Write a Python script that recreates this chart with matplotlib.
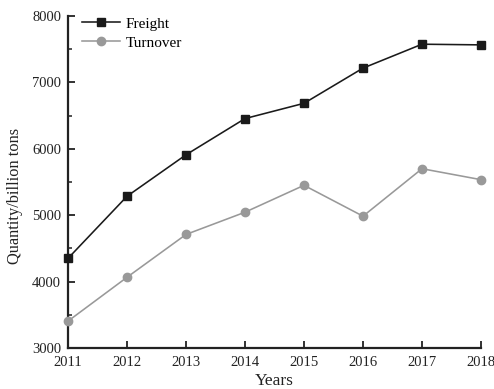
import matplotlib
matplotlib.use("Agg")
import matplotlib.pyplot as plt
from matplotlib.ticker import MultipleLocator

years = [2011, 2012, 2013, 2014, 2015, 2016, 2017, 2018]
freight = [4350, 5285, 5910, 6455, 6685, 7215, 7575, 7565]
turnover = [3405, 4065, 4710, 5045, 5450, 4985, 5700, 5535]

plt.rcParams['font.family'] = ['Liberation Serif', 'DejaVu Serif']

fig = plt.figure(figsize=(4.94, 3.89), dpi=100)
ax = fig.add_axes([0.1377, 0.1054, 0.836, 0.8535])

ax.plot(years, freight, color='#1a1a1a', lw=1.15, marker='s', ms=5.4,
        label='Freight', clip_on=False, zorder=3)
ax.plot(years, turnover, color='#999999', lw=1.15, marker='o', ms=6.0,
        label='Turnover', clip_on=False, zorder=3)

ax.set_xlim(2011, 2018)
ax.set_ylim(3000, 8000)
ax.set_xticks(years)
ax.yaxis.set_major_locator(MultipleLocator(1000))
ax.yaxis.set_minor_locator(MultipleLocator(500))

for side in ('top', 'right'):
    ax.spines[side].set_visible(False)
for side in ('left', 'bottom'):
    ax.spines[side].set_linewidth(1.6)
    ax.spines[side].set_color('#222222')

ax.tick_params(axis='both', which='major', direction='in', length=5, width=1.3,
               labelsize=10.5, colors='#222222')
ax.tick_params(axis='x', which='major', pad=5.5)
ax.tick_params(axis='y', which='major', pad=5)
ax.tick_params(axis='y', which='minor', direction='in', length=3, width=1.1,
               colors='#222222')
ax.tick_params(axis='x', which='minor', bottom=False)

ax.set_xlabel('Years', fontsize=12.5, color='#222222', labelpad=3)
ax.set_ylabel('Quantity/billion tons', fontsize=11.8, color='#222222')
ax.yaxis.set_label_coords(-0.11, 0.458)

ax.legend(loc='upper left', frameon=False, fontsize=11, handlelength=2.5,
          handletextpad=0.35, borderaxespad=0.1, labelspacing=0.35,
          bbox_to_anchor=(0.015, 1.02))

fig.savefig('out.png', dpi=100)
